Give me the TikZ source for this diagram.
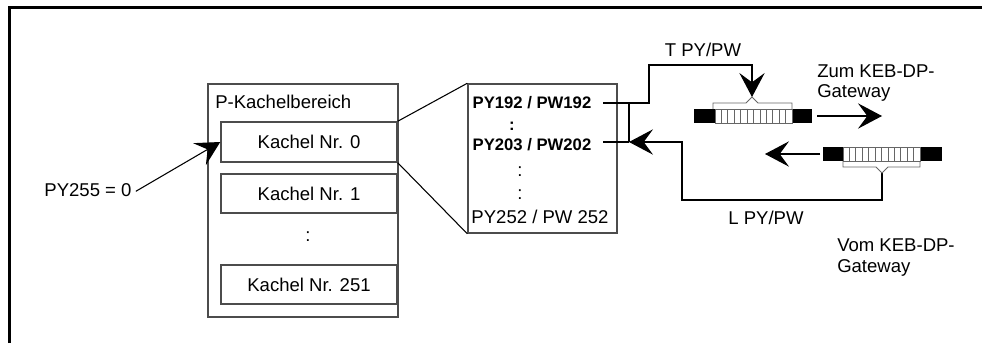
\documentclass[tikz,border=0pt]{standalone}
\usepackage{fontspec}
\setmainfont{Liberation Sans}
\usetikzlibrary{arrows.meta}
\begin{document}
\begin{tikzpicture}[x=0.75pt,y=-0.75pt,
  box/.style={draw=black!70, line width=1.1pt, inner sep=0pt},
  wire/.style={draw=black, line width=0.8pt},
  arr/.style={wire, -{Stealth[length=18pt,width=19pt,inset=7pt]}},
  txt/.style={font=\fontsize{13.9}{15.75}\selectfont, inner sep=0pt},
  btxt/.style={font=\fontsize{12.5}{15}\selectfont\bfseries, inner sep=0pt},
  stripe/.style={draw=black!60, line width=0.6pt},
  frame/.style={draw=black, line width=2.25pt}]
\useasboundingbox (0,0) rectangle (982,343);
% outer frame (cropped)
\draw[frame] (9.5,343) -- (9.5,7.5) -- (982,7.5);
% P-Kachelbereich
\node[box, minimum width=190*0.75pt, minimum height=233*0.75pt] (pbox) at (303,200.5) {};
\node[txt, anchor=west] (ptitle) at (215,102) {P-Kachelbereich};
\node[box, txt, minimum width=176*0.75pt, minimum height=40*0.75pt] (k0) at (309,142) {Kachel Nr. 0};
\node[box, txt, minimum width=176*0.75pt, minimum height=39*0.75pt] (k1) at (309,193.5) {Kachel Nr. 1};
\node[txt] (kdots) at (308,237) {:};
\node[box, txt, minimum width=176*0.75pt, minimum height=39*0.75pt] (k251) at (309,284.5) {Kachel Nr. 251};
% PY255
\node[txt] (py) at (88,190) {PY255 = 0};
\draw[arr] ([xshift=3pt,yshift=-1pt]py.east) -- (k0.west);
% middle box
\node[box, minimum width=149*0.75pt, minimum height=149*0.75pt] (mid) at (542.5,158.5) {};
\draw[wire] (k0.north east) -- (mid.north west);
\draw[wire] (k0.south east) -- (mid.south west);
\node[btxt] (r192) at (532,103) {PY192 / PW192};
\node[btxt] (rd1) at (512,126) {:};
\node[btxt] (r203) at (532,145) {PY203 / PW202};
\node[txt] (rd2) at (520,172) {:};
\node[txt] (rd3) at (520,195) {:};
\node[txt] (r252) at (540,217) {PY252 / PW 252};
% coordinates of wiring
\coordinate (a192) at (603,103);
\coordinate (a203) at (603,142);
\coordinate (jt) at (629,103);
\coordinate (jb) at (629,142);
\coordinate (ttip) at (752,97);
\coordinate (lbot) at (882,173);
% T line
\draw[arr] (a192) -| (649,65) -| (ttip);
\draw[wire] (jt) -- (jb);
\draw[wire] (a203) -- (jb);
% L line
\draw[arr] (lbot) |- (682,200) |- (jb);
% upper connector
\fill (694,109) rectangle (715,123);
\fill (792,109) rectangle (812,123);
\draw[stripe] (715,109) rectangle (792,123);
\foreach \i in {1,...,11} \draw[stripe] ({715+\i*77/12},109) -- ({715+\i*77/12},123);
\draw[stripe] (713,109) -- (713,103) -- (746,103) -- (ttip) -- (758,103) -- (792,103) -- (792,109);
% lower connector
\fill (823,147) rectangle (843,161);
\fill (920,147) rectangle (942,161);
\draw[stripe] (843,147) rectangle (920,161);
\foreach \i in {1,...,11} \draw[stripe] ({843+\i*77/12},147) -- ({843+\i*77/12},161);
\draw[stripe] (843,161) -- (843,167) -- (876,167) -- (lbot) -- (888,167) -- (920,167) -- (920,161);
% direction arrows
\coordinate (o1) at (817,116); \coordinate (o2) at (882,116);
\coordinate (i1) at (820,154); \coordinate (i2) at (765,154);
\draw[arr] (o1) -- (o2);
\draw[arr] (i1) -- (i2);
% labels
\node[txt] (tlab) at (703,50) {T PY/PW};
\node[txt] (llab) at (766,218) {L PY/PW};
\node[txt, anchor=base west] (zum1) at (817,77) {Zum KEB-DP-};
\node[txt, anchor=base west] (zum2) at (817,97) {Gateway};
\node[txt, anchor=base west] (vom1) at (837,251) {Vom KEB-DP-};
\node[txt, anchor=base west] (vom2) at (837,272) {Gateway};
\end{tikzpicture}
\end{document}
